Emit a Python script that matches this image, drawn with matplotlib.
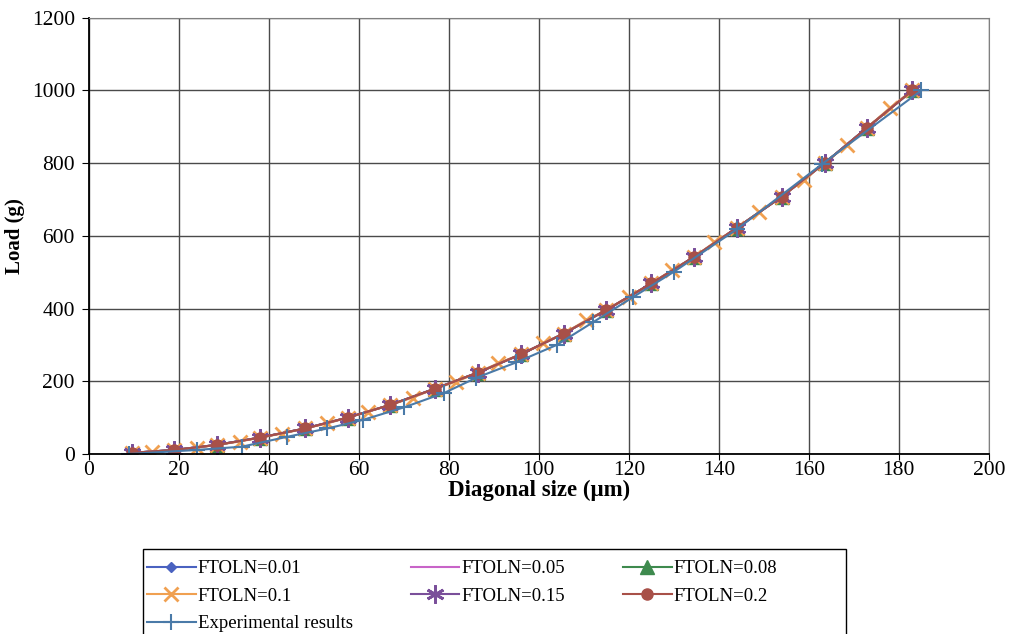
import matplotlib.pyplot as plt
from matplotlib.patches import Rectangle

plt.rcParams["font.family"] = ["Liberation Serif", "DejaVu Serif"]

# simulated points (shared by the FTOLN runs)
sim_d = [9.5, 19, 28.5, 38, 48, 57.5, 67, 77, 86.5, 96, 105.5, 115, 125, 134.5, 144, 154, 163.5, 173, 183]
sim_load = [3, 11, 25, 45, 70, 100, 135, 180, 224, 274, 331, 396, 469, 542, 622, 708, 800, 898, 1000]

# FTOLN=0.1 has extra intermediate points
mid_d = [9.5, 14, 19, 24, 28.5, 33.5, 38, 43, 48, 53, 57.5, 62, 67, 72, 77, 81.5, 86.5, 91,
         96, 101, 105.5, 110.5, 115, 120, 125, 129.5, 134.5, 139, 144, 149, 154, 159,
         163.5, 168.5, 173, 178, 183]
mid_load = [3, 6, 11, 17, 25, 34, 45, 56, 70, 84, 100, 116, 135, 155, 180, 198, 224, 250,
            274, 304, 331, 368, 396, 433, 469, 505, 542, 582, 622, 666, 708, 755,
            800, 850, 898, 952, 1000]

exp_d = [9, 24, 34, 44, 53, 61, 70, 79, 86, 95, 104, 112, 121, 130, 144, 163, 185]
exp_load = [0, 11, 20, 47, 70, 94, 128, 168, 209, 252, 300, 362, 432, 501, 618, 798, 1000]

fig = plt.figure(figsize=(10.1, 6.34), dpi=100)
ax = fig.add_axes([0.088, 0.284, 0.891, 0.688])

h1, = ax.plot(sim_d, sim_load, color="#4a62c0", marker="D", ms=5, lw=1.5, label="FTOLN=0.01")
h2, = ax.plot(sim_d, sim_load, color="#c864c8", lw=1.5, label="FTOLN=0.05")
h3, = ax.plot(sim_d, sim_load, color="#3e8a4e", marker="^", ms=10, lw=1.5, label="FTOLN=0.08")
h4, = ax.plot(mid_d, mid_load, color="#f0a050", marker="x", ms=10, mew=2, lw=1.5, label="FTOLN=0.1")
h5, = ax.plot(sim_d, sim_load, color="#7a4f9a", marker=(6, 2, 0), ms=13, mew=2, lw=1.5, label="FTOLN=0.15")
h6, = ax.plot(sim_d, sim_load, color="#a85048", marker="o", ms=8, lw=1.5, label="FTOLN=0.2")
h7, = ax.plot(exp_d, exp_load, color="#4a7aa8", marker="+", ms=12, mew=1.5, lw=1.5,
              label="Experimental results")

ax.set_xlim(0, 200)
ax.set_ylim(0, 1200)
ax.set_xticks(range(0, 201, 20))
ax.set_yticks(range(0, 1201, 200))
ax.grid(True, color="#4a4a4a", lw=1)
ax.set_axisbelow(True)
ax.tick_params(labelsize=15.5, direction="out", color="black")
ax.tick_params(axis="y", length=5, pad=5)
ax.tick_params(axis="x", length=4, pad=1)
for side in ["top", "right"]:
    ax.spines[side].set_color("#808080")
for side in ["left", "bottom"]:
    ax.spines[side].set_color("black")
    ax.spines[side].set_linewidth(1.3)

ax.set_xlabel("Diagonal size (\u03bcm)", fontsize=16.5, fontweight="bold", labelpad=0)
ax.set_ylabel("Load (g)", fontsize=15, fontweight="bold", labelpad=5)

# legend box (runs past the bottom edge, as in the source)
fig.patches.append(Rectangle((143 / 1010, -0.02), 703 / 1010, 85 / 634 + 0.02,
                             transform=fig.transFigure, fill=False, ec="black", lw=1.0))

handles = [h1, h4, h7, h2, h5, h3, h6]
leg = fig.legend(handles=handles, labels=[h.get_label() for h in handles], ncol=3,
                 loc="upper left", bbox_to_anchor=(0.1455, 0.1165), fontsize=13.5,
                 frameon=False, handlelength=2.6, handletextpad=0.1, columnspacing=3.1,
                 labelspacing=0.55, borderpad=0, borderaxespad=0)

fig.savefig("out.png", dpi=100)
